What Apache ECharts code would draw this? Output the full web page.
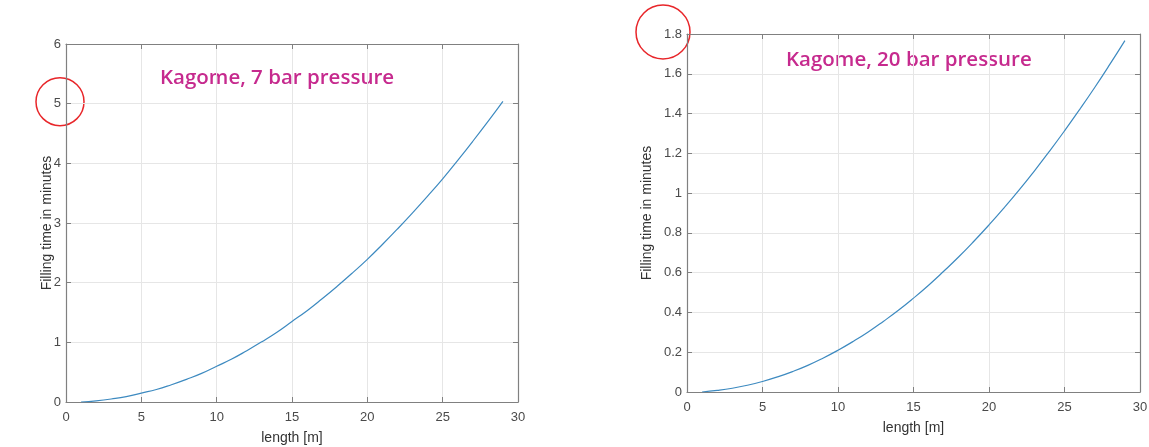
<!DOCTYPE html>
<html><head><meta charset="utf-8">
<script src="https://cdn.jsdelivr.net/npm/echarts@6/dist/echarts.min.js"></script>
<style>html,body{margin:0;padding:0;background:#fff}#c{width:1149px;height:447px}</style>
</head><body><div id="c"></div>
<script>
const lengths = [1,2,3,4,5,6,7,8,9,10,11,12,13,14,15,16,17,18,19,20,21,22,23,24,25,26,27,28,29];
const time7bar = [0,0.02,0.05,0.09,0.15,0.21,0.29,0.38,0.48,0.60,0.72,0.86,1.01,1.17,1.35,1.53,1.73,1.94,2.16,2.39,2.64,2.90,3.17,3.45,3.74,4.05,4.37,4.70,5.04];
const time20bar = [0,0.008,0.019,0.034,0.053,0.076,0.103,0.134,0.170,0.210,0.254,0.302,0.355,0.411,0.472,0.537,0.607,0.680,0.758,0.840,0.926,1.016,1.111,1.210,1.313,1.420,1.531,1.647,1.767];
const titles = ['Kagome, 7 bar pressure','Kagome, 20 bar pressure'];
const yMax = [6, 1.8];
const yStep = [1, 0.2];
const circledTick = [5, 1.8];

const chart = echarts.init(document.getElementById('c'));
const font = 'Liberation Sans, Arial, sans-serif';
const axisColor = '#808080';
const labelColor = '#4a4a4a';
const grids = [
  {left:66, right:631, top:44, bottom:45, outerBoundsMode:'none', containLabel:false},
  {left:687, right:9, top:34, bottom:55, outerBoundsMode:'none', containLabel:false}
];
const xAxes = [], yAxes = [], series = [];
const tick = {show:true, inside:true, length:5, lineStyle:{color:axisColor}};
[time7bar, time20bar].forEach((vals, i) => {
  xAxes.push({type:'value', gridIndex:i, min:0, max:30, interval:5,
    axisLine:{show:true, onZero:false, lineStyle:{color:axisColor, width:1.2}},
    axisTick:tick,
    axisLabel:{color:labelColor, fontFamily:font, fontSize:13, margin:9},
    splitLine:{show:true, lineStyle:{color:'#e6e6e6'}},
    name:'length [m]', nameLocation:'middle', nameGap:29, nameMoveOverlap:false,
    nameTextStyle:{color:'#333', fontFamily:font, fontSize:14}});
  xAxes.push({type:'value', gridIndex:i, position:'top', min:0, max:30, interval:5,
    axisLine:{show:true, onZero:false, lineStyle:{color:axisColor, width:1.2}},
    axisTick:tick, axisLabel:{show:false}, splitLine:{show:false}});
  yAxes.push({type:'value', gridIndex:i, min:0, max:yMax[i], interval:yStep[i],
    axisLine:{show:true, onZero:false, lineStyle:{color:axisColor, width:1.2}},
    axisTick:tick,
    axisLabel:{color:labelColor, fontFamily:font, fontSize:13, margin:5,
      formatter: v => String(Math.round(v*10)/10)},
    splitLine:{show:true, lineStyle:{color:'#e6e6e6'}},
    name:'Filling time in minutes', nameLocation:'middle', nameGap:i===0?12:33, nameMoveOverlap:false,
    nameTextStyle:{color:'#333', fontFamily:font, fontSize:14}});
  yAxes.push({type:'value', gridIndex:i, position:'right', min:0, max:yMax[i], interval:yStep[i],
    axisLine:{show:true, onZero:false, lineStyle:{color:axisColor, width:1.2}},
    axisTick:tick, axisLabel:{show:false}, splitLine:{show:false}});
  series.push({type:'line', xAxisIndex:2*i, yAxisIndex:2*i, showSymbol:false, symbol:'none',
    smooth:true, lineStyle:{color:'#3d8ac0', width:1.2},
    data: lengths.map((x, k) => [x, vals[k]])});
});
chart.setOption({
  animation:false,
  grid:grids, xAxis:xAxes, yAxis:yAxes, series:series,
  graphic:[
    {type:'text', x:160, y:78, style:{text:titles[0], fill:'#c62a8e', verticalAlign:'middle', font:'600 20.5px "Open Sans", sans-serif'}},
    {type:'text', x:786, y:60, style:{text:titles[1], fill:'#c62a8e', verticalAlign:'middle', font:'600 20.5px "Open Sans", sans-serif'}}
  ]
});
const circles = circledTick.map((v, i) => {
  const p = chart.convertToPixel({xAxisIndex:2*i, yAxisIndex:2*i}, [0, v]);
  return {id:'circ'+i, type:'circle', shape:{cx:p[0] - (i===0?6:24), cy:p[1]-2, r:i===0?24:27},
    style:{fill:'none', stroke:'#e8262a', lineWidth:1.5}};
});
chart.setOption({graphic: circles});
</script></body></html>
